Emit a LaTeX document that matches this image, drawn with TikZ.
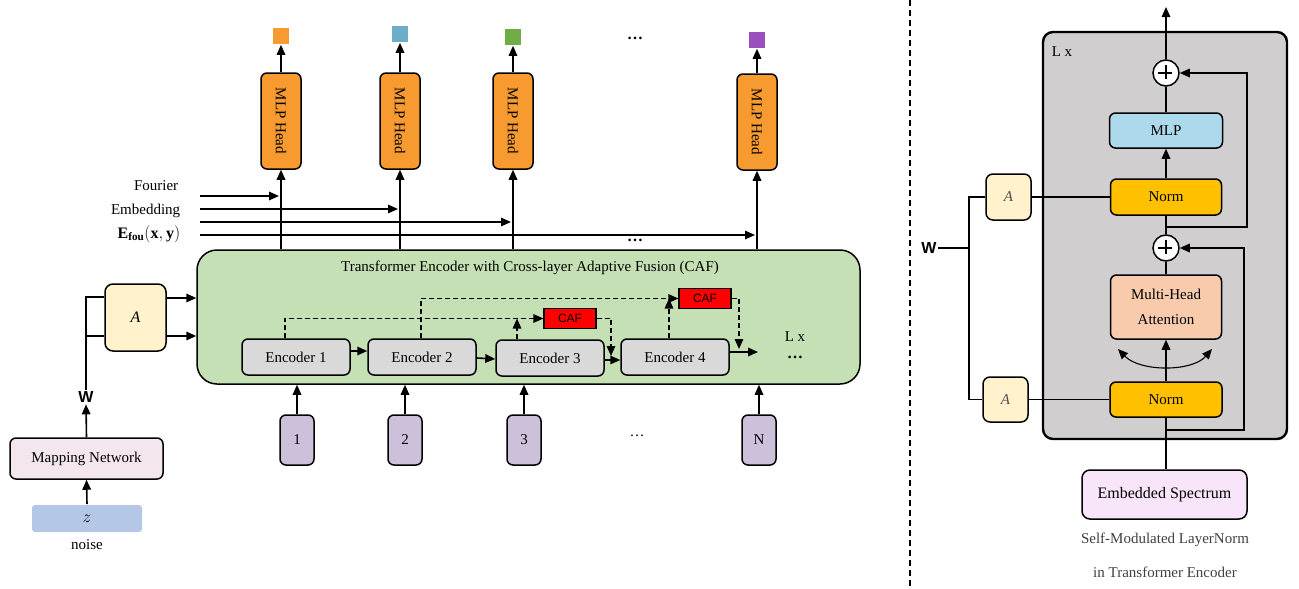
\documentclass[tikz,border=0pt]{standalone}
\usepackage{fontspec}
\setmainfont{Liberation Serif}
\newfontfamily\arialf{Liberation Sans}
\usetikzlibrary{arrows.meta,calc}
\definecolor{headc}{HTML}{F79A30}
\definecolor{sqblue}{HTML}{6AAFC7}
\definecolor{sqgreen}{HTML}{70AD47}
\definecolor{sqpurple}{HTML}{9A4FBF}
\definecolor{greenbg}{HTML}{C5E0B4}
\definecolor{encc}{HTML}{D9D9D9}
\definecolor{abox}{HTML}{FFF2CC}
\definecolor{mapc}{HTML}{F3E6EF}
\definecolor{zc}{HTML}{B4C7E7}
\definecolor{numc}{HTML}{CCC0DA}
\definecolor{grayc}{HTML}{D0CECE}
\definecolor{mlpc}{HTML}{ADD9EC}
\definecolor{normc}{HTML}{FFC000}
\definecolor{mhac}{HTML}{F8CBAD}
\definecolor{esc}{HTML}{F9E5F9}
\begin{document}
\begin{tikzpicture}[x=1pt,y=-1pt,
  line width=1.6pt,
  >={Triangle[length=10pt,width=8.5pt]},
  box/.style={draw, rounded corners=6pt, line width=1.5pt, inner sep=0pt, align=center,
    font=\fontsize{15}{25}\selectfont},
  sq/.style={minimum width=16pt, minimum height=16pt, inner sep=0pt},
  head/.style={box, fill=headc, minimum width=40pt, minimum height=96pt},
  enc/.style={box, fill=encc, minimum width=108pt, minimum height=36pt},
  caf/.style={draw, line width=1.2pt, fill=red, minimum width=52pt, minimum height=20pt, inner sep=0pt,
    font=\arialf\fontsize{12}{12}\selectfont},
  num/.style={box, fill=numc, minimum width=34pt, minimum height=50pt},
  dsh/.style={dashed, dash pattern=on 5pt off 3pt, line width=1.4pt},
  lbl/.style={inner sep=0pt, font=\fontsize{15}{18}\selectfont},
  dts/.style={inner sep=0pt, font=\bfseries\fontsize{16}{16}\selectfont},
  plusc/.style={draw, circle, fill=white, minimum size=26pt, inner sep=0pt, line width=1.5pt},
]
\useasboundingbox (0,0) rectangle (1299,589);

%%% ---------- left panel ----------
% output squares
\node[sq, fill=headc] (sq1) at (281,36) {};
\node[sq, fill=sqblue] (sq2) at (400,34) {};
\node[sq, fill=sqgreen] (sq3) at (513,37) {};
\node[sq, fill=sqpurple] (sq4) at (757,40) {};
\node[dts] (dtop) at (635,38) {\ldots};

% MLP heads
\node[head] (h1) at (281,121) {\rotatebox{-90}{MLP Head}};
\node[head] (h2) at (400,121) {\rotatebox{-90}{MLP Head}};
\node[head] (h3) at (513,121) {\rotatebox{-90}{MLP Head}};
\node[head] (h4) at (757,122) {\rotatebox{-90}{MLP Head}};
\foreach \i in {1,2,3,4} {\draw[->] (h\i.north) -- (sq\i.south);}

% green transformer box
\node[draw, line width=1.5pt, fill=greenbg, rounded corners=20pt, minimum width=663pt, minimum height=134pt, inner sep=0pt]
  (gbox) at (528.5,317) {};
\node[lbl] (gtitle) at (530,268) {Transformer Encoder with Cross-layer Adaptive Fusion (CAF)};

% inputs to heads
\foreach \i in {1,2,3,4} {\draw[->] (h\i.south |- gbox.north) -- (h\i.south);}

% Fourier embedding lines
\coordinate (f1) at (200,196);
\coordinate (f2) at (200,209);
\coordinate (f3) at (200,222);
\coordinate (f4) at (200,235);
\draw[->, shorten >=2pt] (f1) -- (f1 -| h1.south);
\draw[->, shorten >=2pt] (f2) -- (f2 -| h2.south);
\draw[->, shorten >=2pt] (f3) -- (f3 -| h3.south);
\draw[->, shorten >=2pt] (f4) -- (f4 -| h4.south);
\node[lbl, anchor=east] (lf1) at (179,186) {Fourier};
\node[lbl, anchor=east] (lf2) at (181,211) {Embedding};
\node[lbl, anchor=east, font=\fontsize{16}{18}\selectfont] (lf3) at (181,234) {$\mathbf{E}_{\mathbf{fou}}(\mathbf{x},\mathbf{y})$};
\node[dts] (dmid) at (635,240) {\ldots};

% encoders
\node[enc] (e1) at (296,357) {Encoder 1};
\node[enc] (e2) at (422,357) {Encoder 2};
\node[enc] (e3) at (550,358) {Encoder 3};
\node[enc] (e4) at (675,357) {Encoder 4};
\draw[->] ([yshift=6pt]e1.east) -- ([yshift=6pt]e2.west);
\draw[->] ([yshift=-1pt]e2.east) -- ([yshift=-1pt]e3.west);
\draw[->] ([yshift=-2pt]e3.east) -- ([yshift=-3pt]e4.west);
\coordinate (lxout) at (758,352);
\draw[->] ([yshift=5pt]e4.east) -- (lxout);
\node[lbl] (lx) at (795,337) {L x};
\node[dts] (ldots) at (795,357) {\ldots};

% CAF blocks
\node[caf] (caf1) at (570,318.5) {CAF};
\node[caf] (caf2) at (705,298.5) {CAF};
\draw[dsh, ->] ([xshift=-11pt]e1.north) |- (caf1.west);
\draw[dsh, ->] ([xshift=-33pt]e3.north) -- ([xshift=-33pt]e3.north |- caf1.west);
\draw[dsh, ->] ([xshift=-1pt]e2.north) |- (caf2.west);
\draw[dsh, ->] ([xshift=-6pt]e4.north) -- ([xshift=-6pt]e4.north |- caf2.west);
\coordinate (j1) at (611,356);
\coordinate (j2) at (739,349);
\draw[dsh, ->] (caf1.east) -| (j1);
\draw[dsh, ->] (caf2.east) -| (j2);

% numbered tokens
\node[num] (n1) at (297,440) {1};
\node[num] (n2) at (405,440) {2};
\node[num] (n3) at (524,440) {3};
\node[num] (nN) at (759,440) {N};
\node[lbl] (ndots) at (637,436) {\ldots};
\foreach \i in {1,2,3,N} {\draw[->] (n\i.north) -- (n\i.north |- gbox.south);}

% A, W, mapping network
\node[box, fill=abox, rounded corners=8pt, minimum width=61pt, minimum height=67pt, font=\fontsize{16}{18}\selectfont] (aL) at (135.5,317.5) {\textit{A}};
\coordinate (ao1) at (166,298);
\coordinate (ao2) at (166,336);
\draw[->] (ao1) -- (ao1 -| gbox.west);
\draw[->] (ao2) -- (ao2 -| gbox.west);
\node[inner sep=1pt, font=\arialf\bfseries\fontsize{16}{16}\selectfont] (wL) at (86,397) {W};
\coordinate (wt) at (86,297);
\coordinate (wm) at (86,336);
\draw (wL.north) -- (wt) -- (wt -| aL.west);
\draw (wm) -- (wm -| aL.west);
\node[box, fill=mapc, minimum width=153pt, minimum height=41pt] (mn) at (86.5,458.5) {Mapping Network};
\draw[->] (mn.north) -- (wL.south);
\node[fill=zc, rounded corners=3pt, minimum width=110pt, minimum height=27pt, inner sep=0pt,
  font=\fontsize{18}{18}\selectfont] (zb) at (87,518.5) {$z$};
\node[lbl] (noise) at (87,545) {noise};
\draw[->] (zb.north) -- (mn.south);

%%% ---------- separator ----------
\coordinate (sepa) at (910,0);
\coordinate (sepb) at (910,589);
\draw[dashed, dash pattern=on 6pt off 4pt, line width=1.4pt] (sepa) -- (sepb);

%%% ---------- right panel ----------
\node[draw, line width=2.4pt, fill=grayc, rounded corners=10pt, minimum width=244pt, minimum height=407pt, inner sep=0pt]
  (gb) at (1165,235.5) {};
\node[lbl] (lxr) at (1062,52) {L x};

\node[plusc] (p1) at (1166,73) {};
\draw[line width=2.2pt] (p1.west) ++(6,0) -- ++(14,0);
\draw[line width=2.2pt] (p1.north) ++(0,6) -- ++(0,14);
\coordinate (top) at (1166,7);
\draw[->] (p1.north) -- (top);

\node[box, fill=mlpc, minimum width=113pt, minimum height=35pt] (mlp) at (1166,130.5) {MLP};
\draw (mlp.north) -- (p1.south);
\node[box, fill=normc, minimum width=111pt, minimum height=36pt] (norm1) at (1166,197) {Norm};
\draw[->] (norm1.north) -- (mlp.south);

\node[plusc] (p2) at (1166,248) {};
\draw[line width=2.2pt] (p2.west) ++(6,0) -- ++(14,0);
\draw[line width=2.2pt] (p2.north) ++(0,6) -- ++(0,14);
\draw (norm1.south) -- (p2.north);
\coordinate (r1a) at (1166,227);
\coordinate (r1b) at (1247,227);
\draw[->] (r1a) -- (r1b) |- (p1.east);

\node[box, fill=mhac, minimum width=111pt, minimum height=64pt] (mha) at (1166,307) {Multi-Head\\Attention};
\draw (mha.north) -- (p2.south);
\node[box, fill=normc, minimum width=112pt, minimum height=35pt] (norm2) at (1166,399.5) {Norm};
\draw[->] (norm2.north) -- (mha.south);
\coordinate (ca) at (1118,349);
\coordinate (cb) at (1212,349);
\draw[<->, line width=1.1pt] (ca) .. controls (1140,372) and (1192,372) .. (cb);
\coordinate (r2a) at (1166,430);
\coordinate (r2b) at (1244,430);
\draw[->] (r2a) -- (r2b) |- (p2.east);

\node[box, fill=esc, rounded corners=8pt, minimum width=165pt, minimum height=49pt,
  font=\fontsize{16}{18}\selectfont] (es) at (1164.5,494.5) {Embedded Spectrum};
\draw (norm2.south) -- (es.north -| norm2.south);
\node[lbl, text=black!75] (cap1) at (1165,540) {Self-Modulated LayerNorm};
\node[lbl, text=black!75] (cap2) at (1165,572) {in Transformer Encoder};

\node[box, fill=abox, rounded corners=7pt, minimum width=45pt, minimum height=46pt, text=black!70] (a1) at (1008.5,197) {\textit{A}};
\node[box, fill=abox, rounded corners=7pt, minimum width=45pt, minimum height=45pt, text=black!70] (a2) at (1005.5,399.5) {\textit{A}};
\draw (a1.east) -- (norm1.west);
\draw (a2.east) -- (norm2.west);
\node[inner sep=1pt, font=\arialf\bfseries\fontsize{16}{16}\selectfont] (wR) at (929,248) {W};
\coordinate (wj) at (969,248);
\draw (wR.east) -- (wj);
\draw (a1.west) -- (a1.west -| wj) -- (a2.west -| wj) -- (a2.west);
\end{tikzpicture}
\end{document}
